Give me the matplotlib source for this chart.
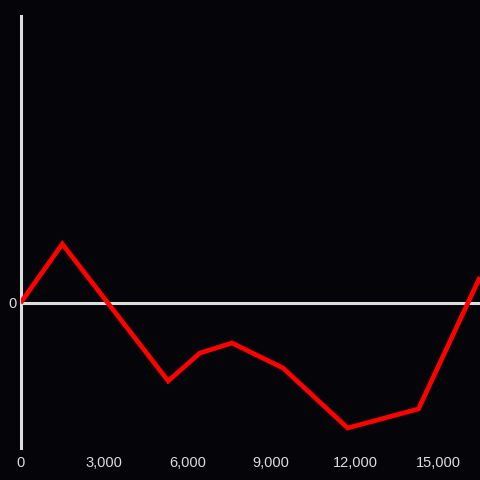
import matplotlib
matplotlib.use("Agg")
import matplotlib.pyplot as plt
from matplotlib.ticker import FuncFormatter

x_vals = [0, 1500, 5300, 6440, 7590, 9420, 11740, 14280, 16490]
y_vals = [0, 59, -78, -50, -40, -65, -125, -106, 26]
x_ticks = [0, 3000, 6000, 9000, 12000, 15000]
y_ticks = [0]

bg = "#050408"
fg = "#dddddd"

plt.rcParams['font.family'] = ['Liberation Sans', 'DejaVu Sans']
fig = plt.figure(figsize=(4.8, 4.8), dpi=100, facecolor=bg)
W = H = 480
ax = fig.add_axes([20.5 / W, 1 - 448 / H, (480 - 20.5) / W, (448 - 16) / H])
ax.set_facecolor(bg)

ax.axhline(0, color=fg, lw=2.2, zorder=2)
ax.plot(x_vals, y_vals, color="#ff0000", lw=3.4, zorder=3, solid_capstyle="butt", solid_joinstyle="miter")

ax.set_xlim(0, 16490)
ax.set_ylim(-145, 287)
for s in ["top", "right", "bottom"]:
    ax.spines[s].set_visible(False)
ax.spines["left"].set_color(fg)
ax.spines["left"].set_linewidth(2.2)

ax.set_xticks(x_ticks)
ax.set_yticks(y_ticks)
ax.xaxis.set_major_formatter(FuncFormatter(lambda v, p: f"{int(v):,}"))
ax.tick_params(axis="both", length=0, colors=fg, labelsize=10.5)
ax.tick_params(axis="x", pad=6)
ax.tick_params(axis="y", pad=3)

fig.savefig("out.png", dpi=100, facecolor=bg)
